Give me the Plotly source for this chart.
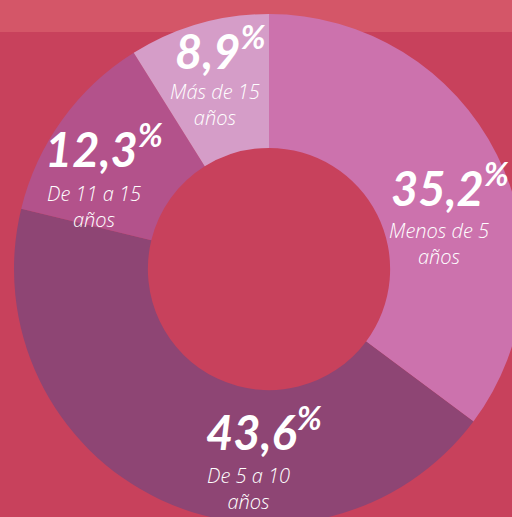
import plotly.graph_objects as go

categories = ["Menos de 5 años", "De 5 a 10 años", "De 11 a 15 años", "Más de 15 años"]
values = [35.2, 43.6, 12.3, 8.9]
value_labels = ["35,2", "43,6", "12,3", "8,9"]
sub_labels = ["Menos de 5<br>años", "De 5 a 10<br>años", "De 11 a 15<br>años", "Más de 15<br>años"]
colors = ["#cc72ad", "#8e4574", "#b3528b", "#d59dc8"]

W, H = 524, 524
fig = go.Figure()
fig.add_trace(go.Pie(
    labels=categories, values=values, sort=False, direction="clockwise", rotation=0,
    hole=0.475, marker=dict(colors=colors, line=dict(width=0)),
    textinfo="none", hoverinfo="label+percent", showlegend=False,
    domain=dict(x=[14 / W, 1.0], y=[0.0, 1 - 14 / H]),
))

# label positions in pixels (x, y from top)
num_pos = [(450, 185), (264, 429), (104, 146), (220, 48)]
sub_pos = [(439, 243), (248, 488), (94, 206), (215, 105)]


def px(x, y):
    return x / W, 1 - y / H


for i in range(len(values)):
    x, y = px(*num_pos[i])
    fig.add_annotation(x=x, y=y, xref="paper", yref="paper", xanchor="center", yanchor="middle",
                       text=f"{value_labels[i]}<sup>%</sup>", showarrow=False, borderpad=0,
                       font=dict(family="Lato", size=47, color="white", weight=700, style="italic"))
    x, y = px(*sub_pos[i])
    fig.add_annotation(x=x, y=y, xref="paper", yref="paper", xanchor="center", yanchor="middle",
                       text=sub_labels[i], showarrow=False, align="center", borderpad=0,
                       font=dict(family="Open Sans", size=20, color="white", weight=300, style="italic"))

fig.add_shape(type="rect", xref="paper", yref="paper", x0=0, x1=1, y0=1 - 32 / H, y1=1,
              fillcolor="#d45668", line=dict(width=0), layer="below")

fig.update_layout(width=W, height=H, margin=dict(l=0, r=0, t=0, b=0),
                  paper_bgcolor="#c8415c", plot_bgcolor="#c8415c")
fig.write_html("out.html", config={"displayModeBar": False},
               post_script="document.body.style.margin='0';"
                           "document.body.style.overflow='hidden';"
                           "document.documentElement.style.overflow='hidden';")
